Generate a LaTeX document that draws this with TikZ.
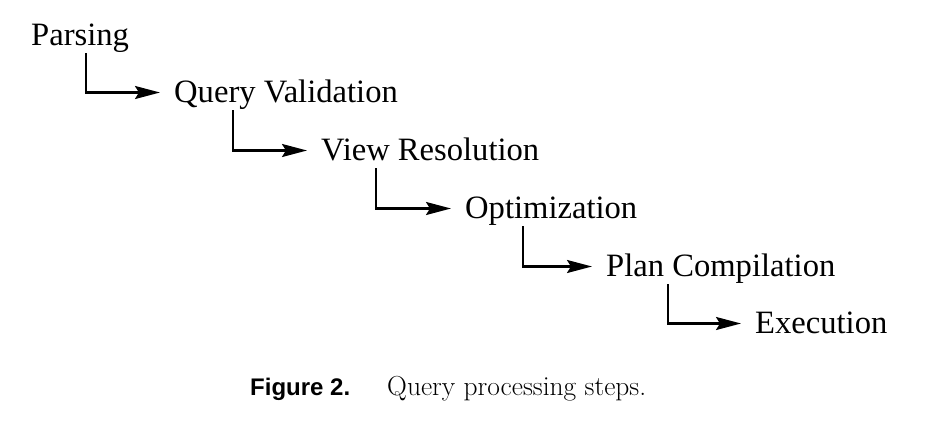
\documentclass[tikz,border=0pt]{standalone}
\usepackage{fontspec}
\setmainfont{Liberation Serif}
\newfontfamily\capsans{Liberation Sans}
\newfontfamily\capserif{Latin Modern Roman}
\usetikzlibrary{arrows.meta}
\begin{document}
\begin{tikzpicture}[x=1pt,y=-1pt,
  stepnode/.style={anchor=base west,inner sep=0pt,font=\fontsize{32.6}{36}\selectfont},
  flow/.style={line width=2.2pt,-{Stealth[length=25pt,width=13pt,inset=4pt]}}]
\useasboundingbox (0,0) rectangle (932,426);
\node[stepnode] (p) at (31,45) {Parsing};
\node[stepnode] (q) at (174,102) {Query Validation};
\node[stepnode] (v) at (321,160) {View Resolution};
\node[stepnode] (o) at (465,218) {Optimization};
\node[stepnode] (c) at (606,276) {Plan Compilation};
\node[stepnode] (e) at (755,333) {Execution};
\draw[flow] ([xshift=55pt,yshift=-8pt]p.base west) |- ([xshift=-14pt,yshift=9.5pt]q.base west);
\draw[flow] ([xshift=59pt,yshift=-8pt]q.base west) |- ([xshift=-14pt,yshift=9.5pt]v.base west);
\draw[flow] ([xshift=55pt,yshift=-8pt]v.base west) |- ([xshift=-14pt,yshift=9.5pt]o.base west);
\draw[flow] ([xshift=58pt,yshift=-8pt]o.base west) |- ([xshift=-14pt,yshift=9.5pt]c.base west);
\draw[flow] ([xshift=62pt,yshift=-8pt]c.base west) |- ([xshift=-14pt,yshift=9.5pt]e.base west);
\node[anchor=base west,inner sep=0pt,font=\capsans\bfseries\fontsize{24}{28}\selectfont] (cl) at (250,395) {Figure 2.};
\node[anchor=base west,inner sep=0pt,font=\capserif\fontsize{27.5}{30}\selectfont] (ct) at (387,395) {Query processing steps.};
\end{tikzpicture}
\end{document}
